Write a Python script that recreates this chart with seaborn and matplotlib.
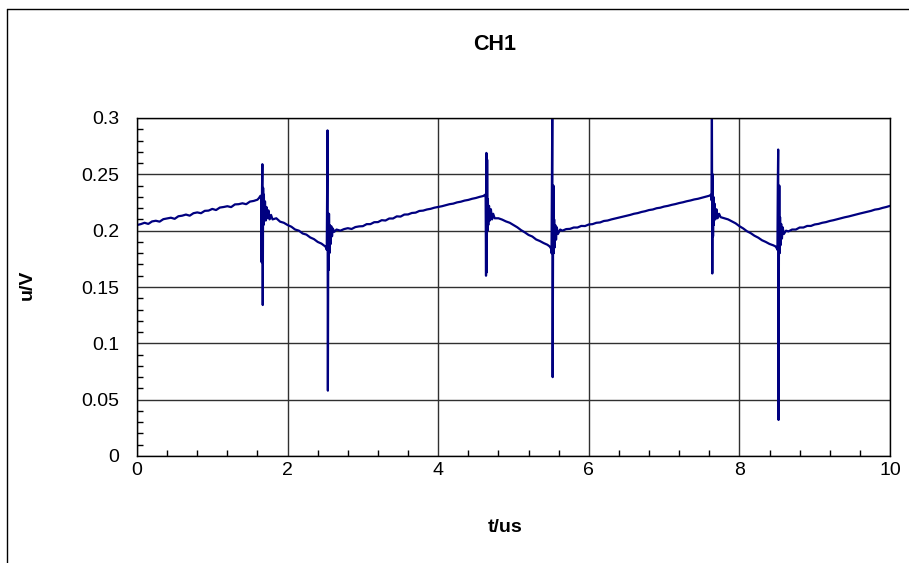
import matplotlib
matplotlib.use("Agg")
import matplotlib.pyplot as plt
from matplotlib.lines import Line2D
from matplotlib.ticker import MultipleLocator
import seaborn as sns
import pandas as pd

# CH1 trace, piece by piece: (t in us, u in V)
ramp_1 = [(0.00, 0.2050), (0.05, 0.2058), (0.10, 0.2070), (0.15, 0.2060), (0.20, 0.2082),
          (0.25, 0.2088), (0.30, 0.2080), (0.35, 0.2102), (0.40, 0.2108), (0.45, 0.2115),
          (0.50, 0.2105), (0.55, 0.2128), (0.60, 0.2133), (0.65, 0.2143), (0.70, 0.2133),
          (0.75, 0.2155), (0.80, 0.2162), (0.85, 0.2155), (0.90, 0.2176), (0.95, 0.2178),
          (1.00, 0.2193), (1.05, 0.2183), (1.10, 0.2205), (1.15, 0.2210), (1.20, 0.2217),
          (1.25, 0.2209), (1.30, 0.2233), (1.35, 0.2235), (1.40, 0.2243), (1.45, 0.2235),
          (1.50, 0.2258), (1.55, 0.2264), (1.60, 0.2275), (1.62, 0.2290), (1.64, 0.2310)]
spike_1 = [(1.650, 0.228), (1.655, 0.172), (1.660, 0.236), (1.665, 0.259), (1.670, 0.134),
           (1.675, 0.238), (1.680, 0.205), (1.685, 0.232), (1.690, 0.210), (1.700, 0.226),
           (1.710, 0.209), (1.720, 0.221), (1.730, 0.211), (1.745, 0.218), (1.760, 0.210),
           (1.780, 0.214)]
fall_1 = [(1.80, 0.2100), (1.85, 0.2110), (1.90, 0.2080), (1.95, 0.2070), (2.00, 0.2050),
          (2.05, 0.2035), (2.10, 0.2010), (2.15, 0.2000), (2.20, 0.1975), (2.25, 0.1965),
          (2.30, 0.1940), (2.35, 0.1925), (2.40, 0.1900), (2.45, 0.1885), (2.50, 0.1860)]
spike_2 = [(2.510, 0.185), (2.520, 0.183), (2.525, 0.240), (2.530, 0.289), (2.535, 0.058),
           (2.540, 0.190), (2.545, 0.165), (2.550, 0.215), (2.555, 0.180), (2.560, 0.205),
           (2.570, 0.188), (2.580, 0.204), (2.590, 0.195), (2.600, 0.202), (2.620, 0.199)]
ramp_2 = [(2.65, 0.2010), (2.70, 0.2000), (2.75, 0.2014), (2.80, 0.2022), (2.85, 0.2015),
          (2.90, 0.2032), (2.95, 0.2038), (3.00, 0.2040), (3.05, 0.2058), (3.10, 0.2058),
          (3.15, 0.2075), (3.20, 0.2076), (3.25, 0.2093), (3.30, 0.2090), (3.35, 0.2108),
          (3.40, 0.2108), (3.45, 0.2127), (3.50, 0.2125), (3.55, 0.2143), (3.60, 0.2144),
          (3.65, 0.2157), (3.70, 0.2160), (3.75, 0.2175), (3.80, 0.2178), (3.85, 0.2188),
          (3.90, 0.2194), (3.95, 0.2204), (4.00, 0.2210), (4.05, 0.2217), (4.10, 0.2226),
          (4.15, 0.2235), (4.20, 0.2240), (4.25, 0.2251), (4.30, 0.2257), (4.35, 0.2267),
          (4.40, 0.2273), (4.45, 0.2283), (4.50, 0.2290), (4.55, 0.2300), (4.60, 0.2308),
          (4.625, 0.2320)]
spike_3 = [(4.630, 0.229), (4.635, 0.160), (4.640, 0.269), (4.645, 0.163), (4.650, 0.263),
           (4.655, 0.200), (4.660, 0.228), (4.665, 0.205), (4.675, 0.222), (4.685, 0.209),
           (4.700, 0.219), (4.715, 0.210), (4.730, 0.215), (4.750, 0.211)]
fall_2 = [(4.80, 0.2110), (4.85, 0.2098), (4.90, 0.2082), (4.95, 0.2070), (5.00, 0.2050),
          (5.05, 0.2030), (5.10, 0.2005), (5.15, 0.1985), (5.20, 0.1962), (5.25, 0.1948),
          (5.30, 0.1922), (5.35, 0.1908), (5.40, 0.1890), (5.45, 0.1875), (5.48, 0.1860),
          (5.50, 0.1840)]
spike_4 = [(5.505, 0.180), (5.510, 0.250), (5.515, 0.305), (5.520, 0.070), (5.525, 0.177),
           (5.530, 0.240), (5.535, 0.180), (5.540, 0.210), (5.545, 0.185), (5.555, 0.205),
           (5.565, 0.192), (5.575, 0.203), (5.590, 0.197)]
ramp_3 = [(5.62, 0.2010), (5.65, 0.2000), (5.70, 0.2014), (5.75, 0.2016), (5.80, 0.2028),
          (5.85, 0.2028), (5.90, 0.2042), (5.95, 0.2041), (6.00, 0.2055), (6.05, 0.2058),
          (6.10, 0.2070), (6.15, 0.2073), (6.20, 0.2086), (6.25, 0.2090), (6.30, 0.2100),
          (6.35, 0.2108), (6.40, 0.2116), (6.45, 0.2124), (6.50, 0.2132), (6.55, 0.2140),
          (6.60, 0.2150), (6.65, 0.2156), (6.70, 0.2166), (6.75, 0.2173), (6.80, 0.2183),
          (6.85, 0.2188), (6.90, 0.2199), (6.95, 0.2204), (7.00, 0.2214), (7.05, 0.2220),
          (7.10, 0.2229), (7.15, 0.2236), (7.20, 0.2245), (7.25, 0.2252), (7.30, 0.2261),
          (7.35, 0.2268), (7.40, 0.2277), (7.45, 0.2283), (7.50, 0.2292), (7.55, 0.2300),
          (7.60, 0.2310), (7.625, 0.2320)]
spike_5 = [(7.630, 0.227), (7.635, 0.305), (7.640, 0.162), (7.645, 0.250), (7.650, 0.195),
           (7.655, 0.230), (7.660, 0.205), (7.670, 0.224), (7.680, 0.210), (7.695, 0.219),
           (7.710, 0.211), (7.730, 0.215), (7.750, 0.212)]
fall_3 = [(7.80, 0.2110), (7.85, 0.2100), (7.90, 0.2082), (7.95, 0.2065), (8.00, 0.2040),
          (8.05, 0.2020), (8.10, 0.1995), (8.15, 0.1978), (8.20, 0.1955), (8.25, 0.1938),
          (8.30, 0.1915), (8.35, 0.1900), (8.40, 0.1882), (8.45, 0.1870), (8.48, 0.1860),
          (8.50, 0.1840)]
spike_6 = [(8.505, 0.183), (8.510, 0.240), (8.515, 0.272), (8.520, 0.032), (8.525, 0.183),
           (8.530, 0.240), (8.535, 0.180), (8.540, 0.212), (8.545, 0.187), (8.555, 0.206),
           (8.565, 0.193), (8.575, 0.203), (8.590, 0.197)]
ramp_4 = [(8.62, 0.2000), (8.65, 0.1993), (8.70, 0.2010), (8.75, 0.2010), (8.80, 0.2028),
          (8.85, 0.2028), (8.90, 0.2042), (8.95, 0.2042), (9.00, 0.2055), (9.05, 0.2060),
          (9.10, 0.2070), (9.15, 0.2076), (9.20, 0.2086), (9.25, 0.2093), (9.30, 0.2102),
          (9.35, 0.2110), (9.40, 0.2119), (9.45, 0.2126), (9.50, 0.2135), (9.55, 0.2143),
          (9.60, 0.2152), (9.65, 0.2160), (9.70, 0.2168), (9.75, 0.2176), (9.80, 0.2187),
          (9.85, 0.2192), (9.90, 0.2202), (9.95, 0.2210), (10.00, 0.2220)]

pieces = [ramp_1, spike_1, fall_1, spike_2, ramp_2, spike_3, fall_2,
          spike_4, ramp_3, spike_5, fall_3, spike_6, ramp_4]
df = pd.DataFrame([p for piece in pieces for p in piece], columns=["t", "u"])

sns.set_style("white")
plt.rcParams["font.family"] = ["Liberation Sans", "DejaVu Sans"]

fig = plt.figure(figsize=(9.09, 5.63), dpi=100)
ax = fig.add_axes([137 / 909, 1 - 456 / 563, 753 / 909, 338 / 563])

sns.lineplot(data=df, x="t", y="u", sort=False, estimator=None,
             color="#000080", linewidth=1.6, ax=ax)

ax.set_xlim(0, 10)
ax.set_ylim(0, 0.3)
ax.xaxis.set_major_locator(MultipleLocator(2))
ax.xaxis.set_minor_locator(MultipleLocator(0.4))
ax.set_yticks([0, 0.05, 0.1, 0.15, 0.2, 0.25, 0.3])
ax.set_yticklabels(["0", "0.05", "0.1", "0.15", "0.2", "0.25", "0.3"])
ax.yaxis.set_minor_locator(MultipleLocator(0.01))
ax.grid(True, which="major", color="#303030", linewidth=1)
ax.tick_params(bottom=True, left=True, which="both")
ax.tick_params(which="major", length=0, labelsize=14, labelcolor="black")
ax.tick_params(axis="y", which="major", pad=13)
ax.tick_params(axis="x", which="major", pad=4)
ax.tick_params(which="minor", direction="in", length=4, width=1, color="black")
for s in ax.spines.values():
    s.set_color("black")
    s.set_linewidth(1)
ax.set_xlabel("")
ax.set_ylabel("")

fig.text(495 / 909, 1 - 45 / 563, "CH1", ha="center", va="center",
         fontsize=15.5, fontweight="bold", color="black")
fig.text(505 / 909, 1 - 528 / 563, "t/us", ha="center", va="center",
         fontsize=14, fontweight="bold", color="black")
fig.text(27 / 909, 1 - 285 / 563, "u/V", ha="center", va="center",
         fontsize=14, fontweight="bold", rotation=90, color="black")

# chart area border (runs off the right and bottom edges)
fig.add_artist(Line2D([7.5 / 909, 7.5 / 909], [0, 1 - 8.5 / 563],
                      transform=fig.transFigure, color="black", linewidth=1))
fig.add_artist(Line2D([7.5 / 909, 1], [1 - 8.5 / 563, 1 - 8.5 / 563],
                      transform=fig.transFigure, color="black", linewidth=1))

fig.savefig("out.png", dpi=100)
